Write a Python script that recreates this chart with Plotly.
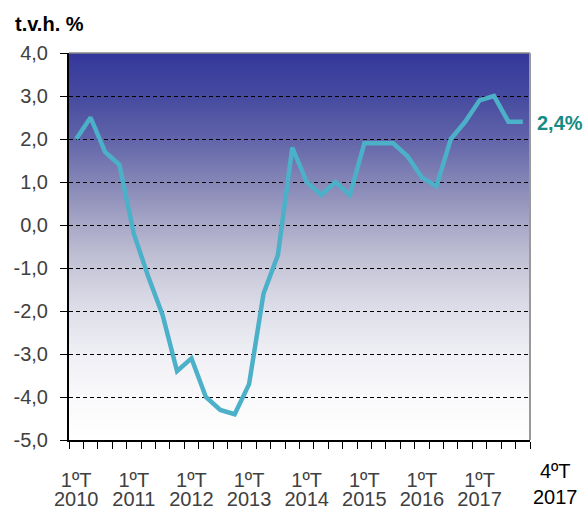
import base64
import plotly.graph_objects as go

# quarters 2010 Q1 .. 2017 Q4
quarters = [f"{q}ºT {y}" for y in range(2010, 2018) for q in range(1, 5)]

# t.v.h. % values
values = [2.0, 2.5, 1.7, 1.4,
          -0.2, -1.2, -2.1, -3.4,
          -3.1, -4.0, -4.3, -4.4,
          -3.7, -1.6, -0.7, 1.8,
          1.0, 0.7, 1.0, 0.7,
          1.9, 1.9, 1.9, 1.6,
          1.1, 0.9, 2.0, 2.4,
          2.9, 3.0, 2.4, 2.4]

quarter_labels = ["1ºT"] * 8
year_labels = ["2010", "2011", "2012", "2013", "2014", "2015", "2016", "2017"]

y_ticks = [-5, -4, -3, -2, -1, 0, 1, 2, 3, 4]
y_tick_labels = ["-5,0", "-4,0", "-3,0", "-2,0", "-1,0", "0,0", "1,0", "2,0", "3,0", "4,0"]

y_min, y_max = -5, 4
n = len(quarters)
x_idx = list(range(n))
label_pos = [i for i in range(0, n, 4)]

# vertical gradient for the plot background (top -> bottom)
stops = [(0, "#34379a"), (0.111, "#464a9f"), (0.222, "#6164a9"), (0.333, "#8586b6"),
         (0.444, "#a8a8c7"), (0.556, "#c7c7d9"), (0.667, "#dfdfea"),
         (0.778, "#efeff5"), (0.889, "#f9f9fb"), (1, "#ffffff")]
svg = ('<svg xmlns="http://www.w3.org/2000/svg" width="100" height="100" '
       'preserveAspectRatio="none"><defs><linearGradient id="g" x1="0" y1="0" x2="0" y2="1">'
       + "".join(f'<stop offset="{o}" stop-color="{c}"/>' for o, c in stops)
       + '</linearGradient></defs><rect width="100" height="100" fill="url(#g)"/></svg>')
bg_src = "data:image/svg+xml;base64," + base64.b64encode(svg.encode()).decode()

fig = go.Figure()

fig.add_trace(go.Scatter(
    x=x_idx, y=values, mode="lines",
    line=dict(color="#4bb0c8", width=4.5),
    showlegend=False, hoverinfo="skip",
))

# dummy traces on the label axes
fig.add_trace(go.Scatter(x=[0], y=[None], xaxis="x2", showlegend=False))
fig.add_trace(go.Scatter(x=[0], y=[None], xaxis="x3", showlegend=False))

label_axis = dict(
    overlaying="x", anchor="y", side="bottom",
    range=[-0.5, n - 0.5], tickvals=label_pos,
    ticks="", showgrid=False, zeroline=False, showline=False, automargin=False,
    tickfont=dict(size=20, color="#404040"),
)

fig.update_layout(
    width=585, height=508,
    margin=dict(l=69, r=55, t=53, b=68),
    paper_bgcolor="white",
    plot_bgcolor="rgba(0,0,0,0)",
    font=dict(family="Liberation Sans, Arial, sans-serif", size=20, color="#404040"),
    images=[dict(source=bg_src, xref="paper", yref="paper", x=0, y=1,
                 sizex=1, sizey=1, xanchor="left", yanchor="top",
                 sizing="stretch", layer="below")],
    xaxis=dict(
        range=[-0.5, n - 0.5],
        tickvals=[i - 0.5 for i in range(n + 1)],
        showticklabels=False,
        ticks="outside", ticklen=7, tickcolor="black", tickwidth=1,
        showgrid=False, zeroline=False, automargin=False,
        showline=True, linecolor="black", linewidth=2,
    ),
    xaxis2=dict(label_axis, ticktext=quarter_labels, ticklabelstandoff=26),
    xaxis3=dict(label_axis, ticktext=year_labels, ticklabelstandoff=45),
    yaxis=dict(
        range=[y_min, y_max], tickvals=y_ticks, ticktext=y_tick_labels,
        ticks="outside", ticklen=7, tickcolor="black",
        ticklabelstandoff=8,
        showgrid=True, gridcolor="black", griddash="4px,3px", gridwidth=1,
        zeroline=False, automargin=False,
        showline=True, linecolor="black", linewidth=2,
        tickfont=dict(size=20, color="#404040"),
    ),
    shapes=[
        dict(type="line", xref="paper", yref="paper", x0=0, x1=1, y0=1, y1=1,
             line=dict(color="#888888", width=1.5)),
        dict(type="line", xref="paper", yref="paper", x0=1, x1=1, y0=0, y1=1,
             line=dict(color="#999999", width=2)),
    ],
    annotations=[
        dict(text="<b>t.v.h. %</b>", xref="paper", yref="paper",
             x=-69 / 461, y=1, yshift=29, xshift=13, xanchor="left", yanchor="middle",
             showarrow=False, font=dict(size=20, color="black")),
        dict(text="<b>2,4%</b>", xref="paper", y=values[-1], yref="y",
             x=1, xshift=5, xanchor="left", yanchor="middle", yshift=-1,
             showarrow=False, font=dict(size=20, color="#178a85")),
        dict(text="4ºT<br>2017", xref="paper", yref="paper",
             x=1, xshift=25, xanchor="center", y=0, yshift=-44, yanchor="middle",
             showarrow=False, font=dict(size=20, color="black")),
    ],
)

# page has a default body margin; drop it so the figure sits at the window corner
fig.write_html("out.html", config={"displayModeBar": False},
               post_script="document.body.style.margin='0';")
